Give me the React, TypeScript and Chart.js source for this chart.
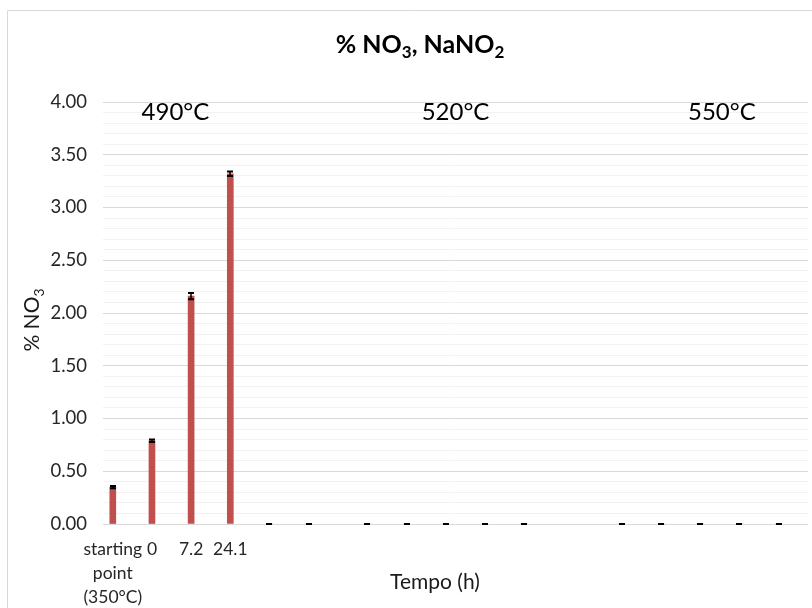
import React, { useEffect, useRef } from "react";
import { Chart, registerables } from "chart.js";

Chart.register(...registerables);

const FONT = "Lato, 'Open Sans', sans-serif";

// Category axis: sampling times, with empty slots separating the temperature groups
const categories: (string | string[])[] = [
  ["starting", "point", "(350°C)"], "", "0", "", "7.2", "", "24.1", "", "", "",
  "", "", "", "", "", "", "", "", "", "",
  "", "", "", "", "", "", "", "", "", "",
  "", "", "", "", "", "",
];

// % NO3 measured at each slot (null = empty slot)
const no3Values: (number | null)[] = [
  0.35, null, 0.79, null, 2.16, null, 3.32, null, 0, null,
  0, null, null, 0, null, 0, null, 0, null, 0,
  null, 0, null, null, null, null, 0, null, 0, null,
  0, null, 0, null, 0, null,
];

// Standard deviation of each measurement
const no3Errors: (number | null)[] = [
  0.01, null, 0.012, null, 0.03, null, 0.022, null, 0, null,
  0, null, null, 0, null, 0, null, 0, null, 0,
  null, 0, null, null, null, null, 0, null, 0, null,
  0, null, 0, null, 0, null,
];

// Temperature group captions and their position along the category axis
const groupLabels = ["490°C", "520°C", "550°C"];
const groupLabelSlots = [3.2, 17.5, 31.1];
const groupLabelLevel = 3.9;

const isMajor = (v: number) => Math.round(v * 10) % 5 === 0;

type Part = { t: string; sub?: boolean };

function drawRich(
  ctx: CanvasRenderingContext2D,
  parts: Part[],
  x: number,
  y: number,
  size: number,
  subSize: number,
  subShift: number,
  weight: string
) {
  const fontOf = (p: Part) => `${weight} ${p.sub ? subSize : size}px ${FONT}`;
  let total = 0;
  const widths = parts.map((p) => {
    ctx.font = fontOf(p);
    const w = ctx.measureText(p.t).width;
    total += w;
    return w;
  });
  let cx = x - total / 2;
  ctx.textAlign = "left";
  parts.forEach((p, i) => {
    ctx.font = fontOf(p);
    ctx.fillText(p.t, cx, y + (p.sub ? subShift : 0));
    cx += widths[i];
  });
}

const decorations = {
  id: "decorations",
  beforeDraw(chart: any) {
    const { ctx, width, height } = chart;
    ctx.save();
    ctx.fillStyle = "#ffffff";
    ctx.fillRect(0, 0, width, height);
    ctx.strokeStyle = "#d9d9d9";
    ctx.lineWidth = 1;
    ctx.beginPath();
    ctx.moveTo(7.5, height);
    ctx.lineTo(7.5, 10.5);
    ctx.lineTo(width, 10.5);
    ctx.stroke();
    ctx.restore();
  },
  afterDatasetsDraw(chart: any) {
    const { ctx } = chart;
    const yScale = chart.scales.y;
    const meta = chart.getDatasetMeta(0);
    ctx.save();
    ctx.strokeStyle = "#000000";
    meta.data.forEach((el: any, i: number) => {
      const v = no3Values[i];
      const e = no3Errors[i];
      if (v == null || e == null) return;
      const x = Math.round(el.x);
      const yHi = yScale.getPixelForValue(v + e);
      const yLo = yScale.getPixelForValue(Math.max(0, v - e));
      const half = 3;
      ctx.lineWidth = 1.5;
      ctx.beginPath();
      ctx.moveTo(x, yHi);
      ctx.lineTo(x, yLo);
      ctx.stroke();
      ctx.lineWidth = 2;
      ctx.beginPath();
      ctx.moveTo(x - half, yHi);
      ctx.lineTo(x + half, yHi);
      ctx.moveTo(x - half, yLo);
      ctx.lineTo(x + half, yLo);
      ctx.stroke();
    });
    ctx.restore();
  },
  afterDraw(chart: any) {
    const { ctx } = chart;
    const xScale = chart.scales.x;
    const yScale = chart.scales.y;
    ctx.save();
    ctx.fillStyle = "#000000";
    ctx.textBaseline = "alphabetic";

    // Chart title
    drawRich(
      ctx,
      [{ t: "% NO" }, { t: "3", sub: true }, { t: ", NaNO" }, { t: "2", sub: true }],
      420,
      53,
      25,
      17,
      5,
      "bold"
    );

    // Y axis title (rotated)
    ctx.save();
    ctx.translate(39, 320);
    ctx.rotate(-Math.PI / 2);
    ctx.fillStyle = "#1a1a1a";
    drawRich(ctx, [{ t: "% NO" }, { t: "3", sub: true }], 0, 0, 21, 14, 5, "normal");
    ctx.restore();

    // X axis title
    ctx.fillStyle = "#1a1a1a";
    ctx.font = `21px ${FONT}`;
    ctx.textAlign = "center";
    ctx.textBaseline = "middle";
    ctx.fillText("Tempo (h)", 435, 582);

    // Temperature group captions
    ctx.font = `24px ${FONT}`;
    ctx.fillStyle = "#000000";
    groupLabels.forEach((label, i) => {
      const x = xScale.getPixelForValue(groupLabelSlots[i]);
      const y = yScale.getPixelForValue(groupLabelLevel);
      ctx.fillText(label, x, y);
    });
    ctx.restore();
  },
};

export default function App() {
  const canvasRef = useRef<HTMLCanvasElement | null>(null);

  useEffect(() => {
    const canvas = canvasRef.current;
    if (!canvas) return;
    const chart = new Chart(canvas, {
      type: "bar",
      data: {
        labels: categories,
        datasets: [
          {
            label: "% NO3",
            data: no3Values,
            backgroundColor: "#c0504d",
            barThickness: 6,
          },
        ],
      },
      options: {
        animation: false,
        responsive: false,
        devicePixelRatio: 1,
        layout: { padding: { left: 0, top: 102, right: 4, bottom: 0 } },
        plugins: {
          legend: { display: false },
          title: { display: false },
          tooltip: { enabled: false },
        },
        scales: {
          x: {
            grid: { display: false, drawTicks: false },
            border: { display: false },
            ticks: {
              autoSkip: false,
              maxRotation: 0,
              minRotation: 0,
              padding: 13,
              color: "#262626",
              font: { family: FONT, size: 17.5, lineHeight: 1.37 },
            },
            afterFit(scale: any) {
              scale.height = 84;
            },
          },
          y: {
            min: 0,
            max: 4,
            border: { display: false },
            grid: {
              drawTicks: false,
              lineWidth: 1,
              color: (c: any) => (isMajor(c.tick.value) ? "#d9d9d9" : "#f2f2f2"),
            },
            ticks: {
              stepSize: 0.1,
              autoSkip: false,
              padding: 16,
              color: "#262626",
              font: { family: FONT, size: 18.5 },
              callback: (v: any) => (isMajor(Number(v)) ? Number(v).toFixed(2) : ""),
            },
            afterFit(scale: any) {
              scale.width = 103;
            },
          },
        },
      },
      plugins: [decorations],
    });
    return () => chart.destroy();
  }, []);

  return (
    <div style={{ position: "fixed", left: 0, top: 0, width: 812, height: 608, background: "#fff" }}>
      <canvas ref={canvasRef} width={812} height={608} style={{ display: "block" }} />
    </div>
  );
}
